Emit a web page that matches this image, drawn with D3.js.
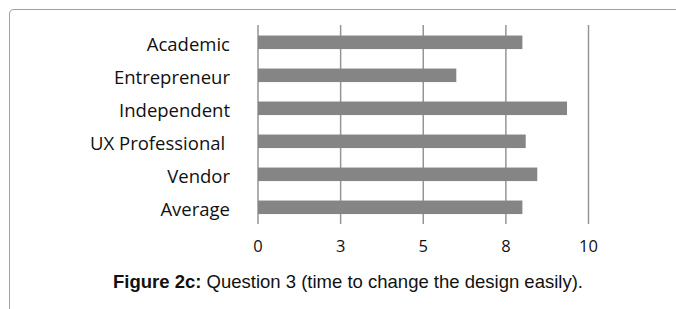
<!DOCTYPE html>
<html>
<head>
<meta charset="utf-8">
<script src="https://cdn.jsdelivr.net/npm/d3@7"></script>
<style>
  html, body { margin: 0; padding: 0; background: #fff; }
  svg { display: block; }
  .cat text { white-space: pre; }
</style>
</head>
<body>
<svg id="chart" width="676" height="309"></svg>
<script>
// values
var categories = ["Academic", "Entrepreneur", "Independent", "UX Professional ", "Vendor", "Average"]
var scores = [8.0, 6.0, 9.35, 8.1, 8.45, 8.0]
var tickValues = [0, 2.5, 5, 7.5, 10]

var svg = d3.select("#chart")

// frame round the figure
svg.append("path")
    .attr("d", "M9.5,309 L9.5,14 Q9.5,9.5 14,9.5 L676,9.5")
    .style("fill", "none")
    .style("stroke", "#a0a0a0")
    .style("stroke-width", 1)

var x = d3.scaleLinear()
    .domain([0, 10])
    .range([258, 588.5])

var y = d3.scaleBand()
    .domain(categories)
    .range([25.8, 223.8])
    .paddingInner(0.59)
    .paddingOuter(0.295)

// grid lines
svg.append("g")
    .selectAll("line")
    .data(tickValues)
    .enter()
    .append("line")
    .attr("x1", d => x(d))
    .attr("x2", d => x(d))
    .attr("y1", 25)
    .attr("y2", 224)
    .style("stroke", "#959595")
    .style("stroke-width", 1.5)

// bars
svg.append("g")
    .selectAll("rect")
    .data(scores)
    .enter()
    .append("rect")
    .attr("x", x(0))
    .attr("y", (d, i) => y(categories[i]))
    .attr("width", d => x(d) - x(0))
    .attr("height", y.bandwidth())
    .style("fill", "#858585")

// category labels
svg.append("g")
    .attr("class", "cat")
    .selectAll("text")
    .data(categories)
    .enter()
    .append("text")
    .attr("x", 230)
    .attr("y", d => y(d) + y.bandwidth() / 2)
    .attr("dy", "0.45em")
    .attr("text-anchor", "end")
    .style("font-family", "'Open Sans', sans-serif")
    .style("font-size", "18.5px")
    .style("fill", "#111")
    .text(d => d)

// x tick labels
var fmt = d3.format(".0f")
svg.append("g")
    .selectAll("text")
    .data(tickValues)
    .enter()
    .append("text")
    .attr("x", d => x(d))
    .attr("y", 251.5)
    .attr("text-anchor", "middle")
    .style("font-family", "'Open Sans', sans-serif")
    .style("font-size", "16.5px")
    .style("fill", "#111")
    .text(d => fmt(d))

// caption
var caption = svg.append("text")
    .attr("x", 348)
    .attr("y", 288)
    .attr("text-anchor", "middle")
    .style("font-family", "'Liberation Sans', Arial, sans-serif")
    .style("font-size", "18.5px")
    .style("fill", "#111")

caption.append("tspan")
    .style("font-weight", "bold")
    .text("Figure 2c:")
caption.append("tspan")
    .text(" Question 3 (time to change the design easily).")
</script>
</body>
</html>
